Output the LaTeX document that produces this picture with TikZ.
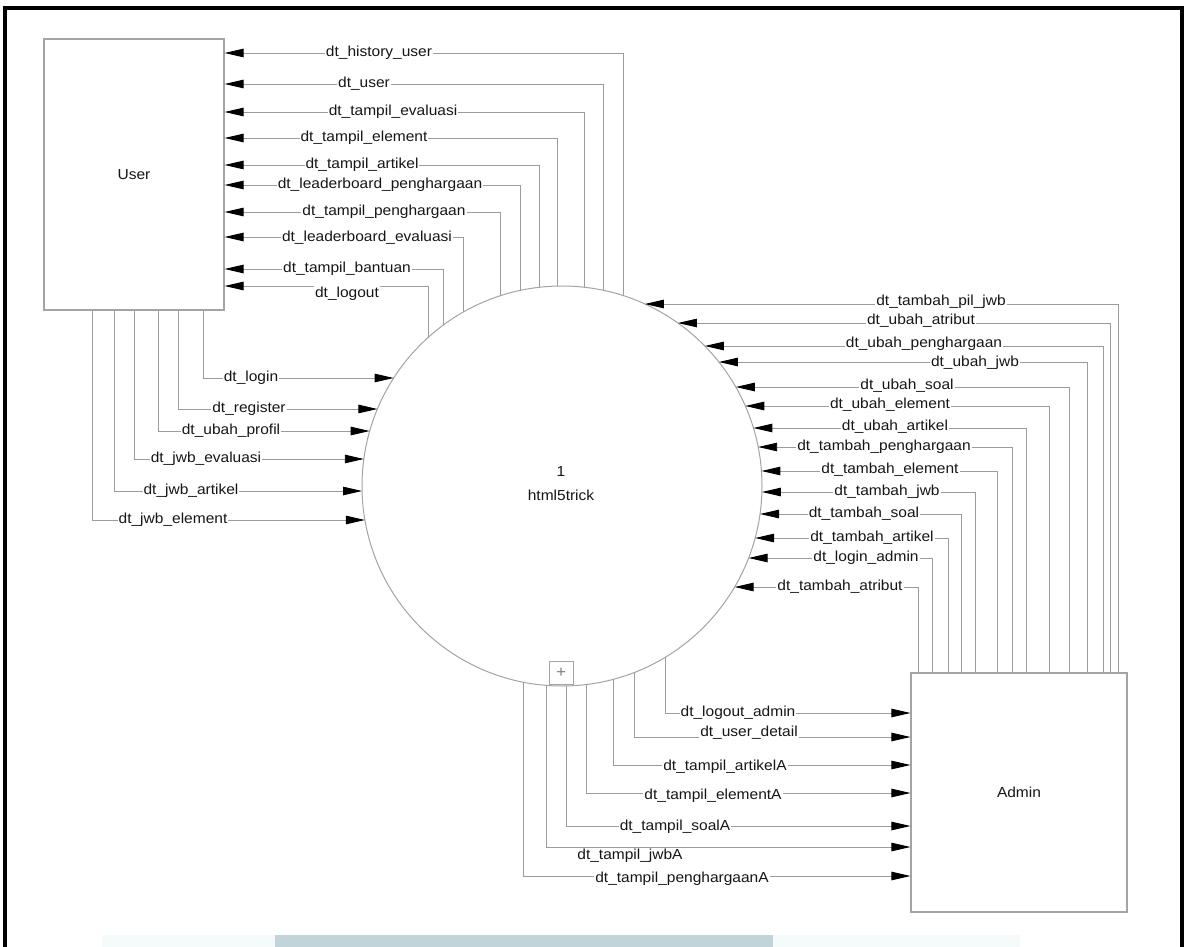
\documentclass[tikz,border=0pt]{standalone}
\usepackage{fontspec}
\setmainfont{Liberation Sans}[FakeStretch=1.07]
\usetikzlibrary{arrows.meta,calc}

\definecolor{linegray}{HTML}{9C9C9C}
\definecolor{boxgray}{HTML}{A4A4A4}
\definecolor{txt}{HTML}{161616}
\definecolor{bandblue}{HTML}{C1D4DA}
\definecolor{bandfaint}{HTML}{F5FAFB}

\begin{document}
\begin{tikzpicture}[x=1pt,y=-1pt,
  flow/.style={draw=linegray,line width=0.9pt,
    -{Triangle[length=19pt,width=8.5pt,color=black]}},
  lab/.style={fill=white,inner sep=1pt,text=txt,
    font=\fontsize{14.5}{16}\selectfont},
  entity/.style={draw=boxgray,line width=1.1pt,fill=white,text=txt,
    font=\fontsize{14.5}{16}\selectfont},
  process/.style={circle,draw=boxgray,line width=1pt,fill=white,
    minimum size=400pt,inner sep=0pt},
  ptext/.style={text=txt,inner sep=0pt,font=\fontsize{14.5}{16}\selectfont}]

\path[use as bounding box] (0,0) rectangle (1184,947);

% external entities and the process
\node[entity,minimum width=180pt,minimum height=271pt] (user) at (134,174.5) {User};
\node[entity,minimum width=216pt,minimum height=239pt] (admin) at (1019,792.5) {Admin};
\node[process] (proc) at (562,486) {};
\node[ptext] (pnum) at (561,472) {1};
\node[ptext] (pname) at (561,495) {html5trick};
\node[draw=boxgray,line width=0.9pt,fill=white,minimum width=24pt,minimum height=23pt,
  inner sep=0pt,text=gray,font=\fontsize{16}{16}\selectfont] (expand) at (561,672.5) {+};

% process -> User (leave the top of the circle, enter User on its right side)
\foreach \t/\y/\lx/\ly/\vx [count=\i] in {
  {dt\_history\_user}/53/379/53/623,
  {dt\_user}/84/364/84/603,
  {dt\_tampil\_evaluasi}/112/393/112/584,
  {dt\_tampil\_element}/138/364/138/557,
  {dt\_tampil\_artikel}/165/362/165/539,
  {dt\_leaderboard\_penghargaan}/185/380/185/520,
  {dt\_tampil\_penghargaan}/212/384/212/500,
  {dt\_leaderboard\_evaluasi}/237/367/238/463,
  {dt\_tampil\_bantuan}/269/347/269/443,
  {dt\_logout}/286/347/294/428}{
  \draw[flow] ($(proc.center)+({\vx-562},{-100*sqrt(4-((\vx-562)/100)^2)})$)
    |- (user.east |- 0,\y);
  \node[lab] (uo\i) at (\lx,\ly) {\t};
}

% User -> process (leave User at its bottom, enter the circle on the left)
\foreach \t/\y/\lx/\vx [count=\i] in {
  {dt\_login}/378/251/203,
  {dt\_register}/409/249/178,
  {dt\_ubah\_profil}/431/231/158,
  {dt\_jwb\_evaluasi}/459/206/134,
  {dt\_jwb\_artikel}/491/191/114,
  {dt\_jwb\_element}/520/173/92}{
  \draw[flow] (user.south -| \vx,0) |-
    ($(proc.center)+({-100*sqrt(4-((\y-486)/100)^2)},{\y-486})$);
  \node[lab] (ui\i) at (\lx,\y) {\t};
}

% Admin -> process (leave Admin at its top, enter the circle on the right)
\foreach \t/\y/\lx/\ly/\vx [count=\i] in {
  {dt\_tambah\_pil\_jwb}/304/941/302/1118,
  {dt\_ubah\_atribut}/323/921/321/1110,
  {dt\_ubah\_penghargaan}/346/924/344/1103,
  {dt\_ubah\_jwb}/362/975/363/1087,
  {dt\_ubah\_soal}/387/907/386/1069,
  {dt\_ubah\_element}/406/890/405/1049,
  {dt\_ubah\_artikel}/428/895/427/1026,
  {dt\_tambah\_penghargaan}/447/884/447/1012,
  {dt\_tambah\_element}/471/890/470/997,
  {dt\_tambah\_jwb}/492/887/492/975,
  {dt\_tambah\_soal}/514/864/514/961,
  {dt\_tambah\_artikel}/538/872/538/948,
  {dt\_login\_admin}/558/866/558/932,
  {dt\_tambah\_atribut}/587/840/587/918}{
  \draw[flow] (admin.north -| \vx,0) |-
    ($(proc.center)+({100*sqrt(4-((\y-486)/100)^2)},{\y-486})$);
  \node[lab] (ai\i) at (\lx,\ly) {\t};
}

% process -> Admin (leave the bottom of the circle, enter Admin on its left side)
\foreach \t/\y/\lx/\ly/\vx [count=\i] in {
  {dt\_logout\_admin}/713/738/713/665,
  {dt\_user\_detail}/737/749/733/634,
  {dt\_tampil\_artikelA}/765/725/767/613,
  {dt\_tampil\_elementA}/793/713/796/586,
  {dt\_tampil\_soalA}/826/675/827/566,
  {dt\_tampil\_jwbA}/847/630/856/546,
  {dt\_tampil\_penghargaanA}/876/682/879/523}{
  \draw[flow] ($(proc.center)+({\vx-562},{100*sqrt(4-((\vx-562)/100)^2)})$)
    |- (admin.west |- 0,\y);
  \node[lab] (ao\i) at (\lx,\ly) {\t};
}

% tinted strip along the lower edge
\fill[bandfaint] (102,935) rectangle (275,947);
\fill[bandblue] (275,935) rectangle (773,947);
\fill[bandfaint] (773,935) rectangle (1020,947);

% page frame
\draw[line width=4.5pt,line join=miter] (5,950) -- (5,8) -- (1182,8) -- (1182,950);
\end{tikzpicture}
\end{document}
